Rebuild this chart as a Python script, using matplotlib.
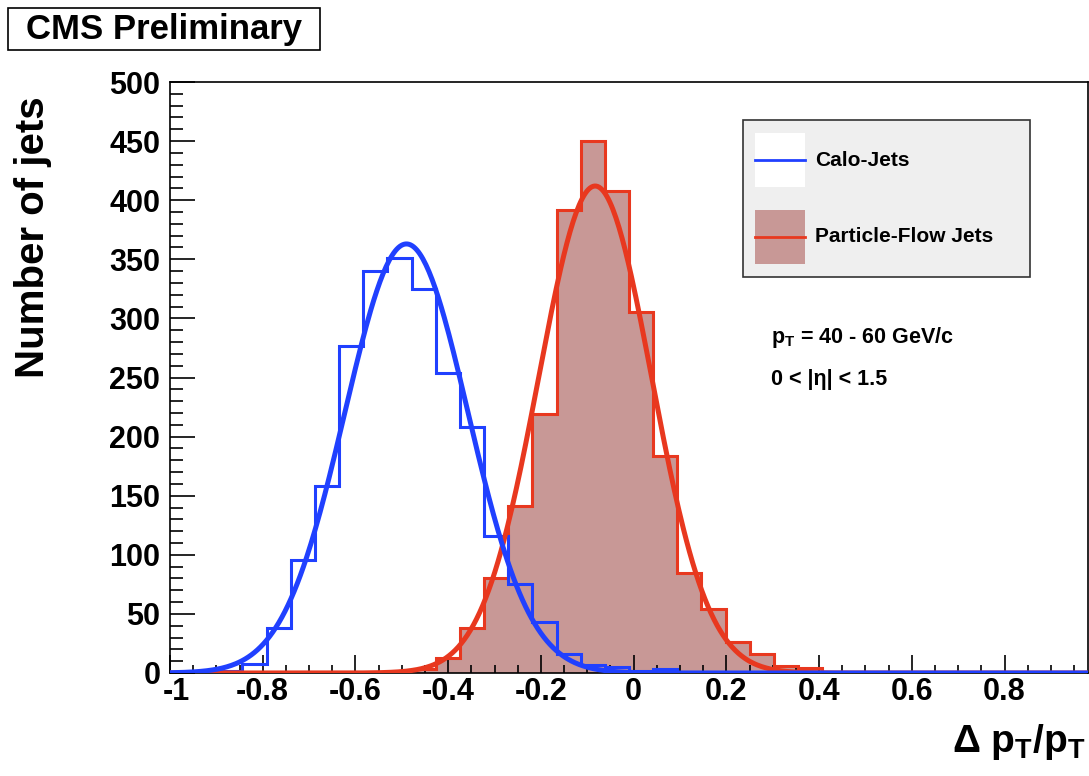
import numpy as np
import matplotlib
matplotlib.use('Agg')
import matplotlib.pyplot as plt
from matplotlib.patches import Rectangle
from matplotlib.lines import Line2D
from matplotlib.ticker import MultipleLocator
from matplotlib.transforms import ScaledTranslation

plt.rcParams['font.family'] = ['Liberation Sans', 'DejaVu Sans']
plt.rcParams['font.weight'] = 'bold'
plt.rcParams['mathtext.default'] = 'regular'

# binning of Delta pT / pT
bin_lo, bin_hi, n_bins = -1.0, 0.98, 38

# counts per bin
calo_counts = [1, 1, 2, 8, 38, 96, 158, 277, 340, 351, 325, 254, 208, 116, 75,
               43, 16, 7, 5, 2, 3, 1, 1, 0, 0, 0, 0, 0, 0, 0, 0, 0, 0, 0, 0, 0, 0, 0]
pf_counts = [0, 0, 0, 0, 0, 0, 0, 0, 0, 1, 3, 13, 38, 80, 141, 219, 392, 450, 408,
             305, 184, 85, 54, 26, 16, 6, 4, 1, 0, 0, 0, 0, 0, 0, 1, 0, 0, 0]

# gaussian fits (amplitude, mean, sigma)
calo_fit = (363, -0.490, 0.133)
pf_fit = (412, -0.083, 0.122)

labels = ['Calo-Jets', 'Particle-Flow Jets']
x_ticks = [-1, -0.8, -0.6, -0.4, -0.2, 0, 0.2, 0.4, 0.6, 0.8]
x_ticklabels = ['-1', '-0.8', '-0.6', '-0.4', '-0.2', '0', '0.2', '0.4', '0.6', '0.8']
y_ticks = list(range(0, 501, 50))

blue = '#2040ff'
red = '#e8381f'
fill = '#c89896'

W, H = 1089, 776
def fx(px):
    return px / W
def fy(py):
    return 1 - py / H

edges = np.linspace(bin_lo, bin_hi, n_bins + 1)
xf = np.linspace(bin_lo, bin_hi, 600)

def gaus(x, p):
    a, m, s = p
    return a * np.exp(-0.5 * ((x - m) / s) ** 2)

fig = plt.figure(figsize=(W/100, H/100), dpi=100)
ax = fig.add_axes([fx(170), fy(673), 918/W, 591/H])

ax.stairs(pf_counts, edges, fill=True, color=fill, zorder=1)
ax.stairs(pf_counts, edges, color=red, lw=2.2, zorder=2)
ax.stairs(calo_counts, edges, color=blue, lw=2.2, zorder=3)
ax.plot(xf, gaus(xf, pf_fit), color=red, lw=3.6, zorder=4)
ax.plot(xf, gaus(xf, calo_fit), color=blue, lw=3.6, zorder=5)

ax.set_xlim(bin_lo, bin_hi)
ax.set_ylim(0, 500)
ax.set_xticks(x_ticks)
ax.set_xticklabels(x_ticklabels)
ax.set_yticks(y_ticks)
ax.xaxis.set_minor_locator(MultipleLocator(0.05))
ax.yaxis.set_minor_locator(MultipleLocator(10))
ax.tick_params(which='both', direction='in', labelsize=22, width=1.2)
ax.tick_params(axis='y', which='major', length=18, pad=7)
ax.tick_params(axis='y', which='minor', length=9)
ax.tick_params(axis='x', which='major', length=13, pad=3)
ax.tick_params(axis='x', which='minor', length=6)
for s in ax.spines.values():
    s.set_linewidth(1.2)

# nudge the "-1" label so it clears the "0" of the y axis
first = ax.get_xticklabels()[0]
first.set_transform(first.get_transform() + ScaledTranslation(0.06, 0, fig.dpi_scale_trans))

# legend box, drawn by hand to match the ROOT layout
fig.patches.append(Rectangle((fx(743), fy(277)), 287/W, 157/H, transform=fig.transFigure,
                             facecolor='#efefef', edgecolor='#333333', lw=1.2, zorder=10))
fig.patches.append(Rectangle((fx(755), fy(187)), 50/W, 54/H, transform=fig.transFigure,
                             facecolor='white', edgecolor='none', zorder=11))
fig.patches.append(Rectangle((fx(755), fy(264)), 50/W, 54/H, transform=fig.transFigure,
                             facecolor=fill, edgecolor='none', zorder=11))
fig.lines.append(Line2D([fx(755), fx(805)], [fy(160), fy(160)], transform=fig.transFigure,
                        color=blue, lw=2, zorder=12))
fig.lines.append(Line2D([fx(755), fx(805)], [fy(237), fy(237)], transform=fig.transFigure,
                        color=red, lw=2, zorder=12))
fig.text(fx(815), fy(160), labels[0], fontsize=15, ha='left', va='center', zorder=13)
fig.text(fx(815), fy(237), labels[1], fontsize=15, ha='left', va='center', zorder=13)

ax.text(0.655, 0.567, r'p$_T$ = 40 - 60 GeV/c', transform=ax.transAxes,
        fontsize=15.5, ha='left', va='center')
ax.text(0.655, 0.496, '0 < |\u03b7| < 1.5', transform=ax.transAxes,
        fontsize=15.5, ha='left', va='center')

fig.text(fx(33), fy(237), 'Number of jets', rotation=90, ha='center',
         va='center', fontsize=29)
fig.text(fx(1086), fy(742), r'$\Delta$ p$_T$/p$_T$', ha='right', va='center',
         fontsize=28)

fig.patches.append(Rectangle((fx(8), fy(50)), 312/W, 42/H, transform=fig.transFigure,
                             facecolor='white', edgecolor='black', lw=1.2))
fig.text(fx(164), fy(29), 'CMS Preliminary', ha='center', va='center', fontsize=25)

fig.savefig('out.png', dpi=100)
